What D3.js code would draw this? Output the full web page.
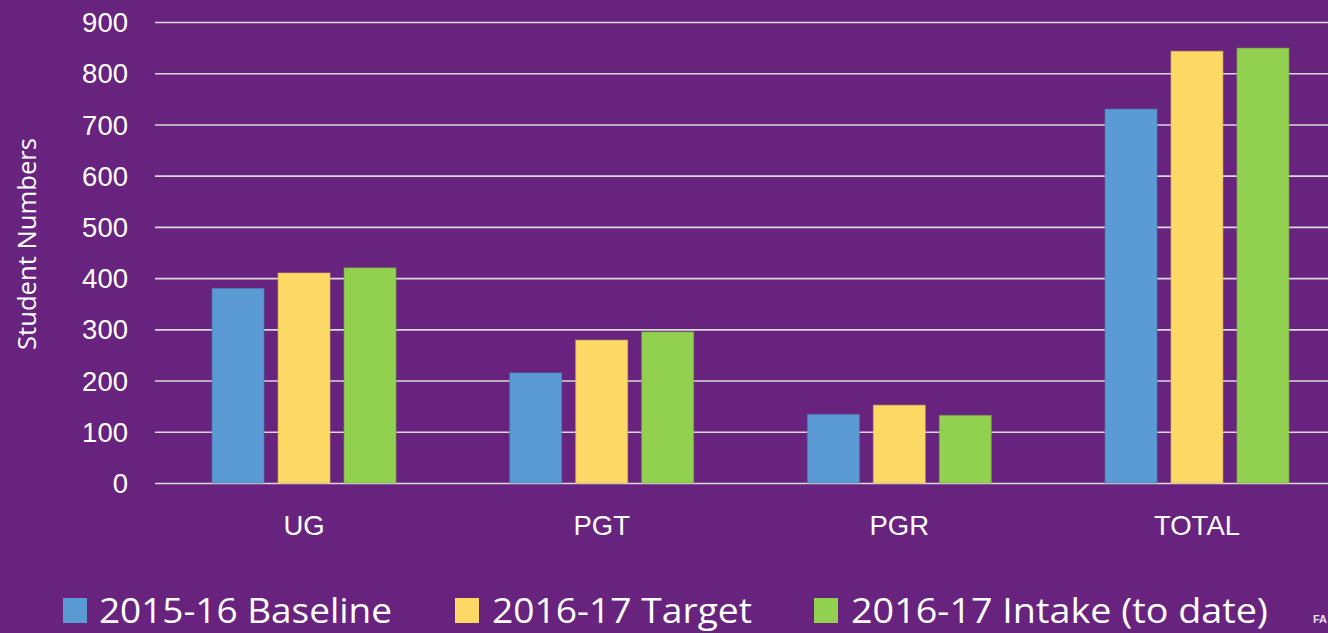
<!DOCTYPE html>
<html>
<head>
<meta charset="utf-8">
<script src="https://cdn.jsdelivr.net/npm/d3@7"></script>
<style>
  html, body { margin: 0; padding: 0; background: #68237f; }
  svg { display: block; }
</style>
</head>
<body>
<div id="chart"></div>
<script>
// chart data
const categories = ["UG", "PGT", "PGR", "TOTAL"];
const seriesNames = ["2015-16 Baseline", "2016-17 Target", "2016-17 Intake (to date)"];
const baseline = [380, 215, 134, 730];
const target = [410, 279, 152, 843];
const intake = [420, 295, 132, 849];
const yTicks = [0, 100, 200, 300, 400, 500, 600, 700, 800, 900];

const colors = ["#5b9bd5", "#ffd966", "#92d050"];
const W = 1328, H = 633;

const data = categories.map((c, i) => ({
    cat: c,
    values: [baseline[i], target[i], intake[i]]
}));

const svg = d3.select("#chart")
    .append("svg")
    .attr("width", W)
    .attr("height", H);

svg.append("rect")
    .attr("width", W).attr("height", H)
    .attr("fill", "#68237f");

const y = d3.scaleLinear()
    .domain([0, 900])
    .range([483, 22]);

const x0 = d3.scaleBand()
    .domain(categories)
    .range([155.2, 1345.8])
    .paddingInner(0.382)
    .paddingOuter(0.191);

const x1 = d3.scaleBand()
    .domain(d3.range(3))
    .range([0, x0.bandwidth()])
    .paddingInner(0.212);

// gridlines + tick labels
const yAxis = d3.axisLeft(y)
    .tickValues(yTicks)
    .tickSize(-(W - 155))
    .tickPadding(27);

const gy = svg.append("g")
    .attr("transform", "translate(155,0)")
    .call(yAxis);
gy.select(".domain").remove();
gy.selectAll(".tick line")
    .attr("stroke", "#d9d9d9")
    .attr("stroke-width", 1.6);
gy.selectAll(".tick text")
    .attr("fill", "#ffffff")
    .attr("font-family", "Liberation Sans, Arial, sans-serif")
    .attr("font-size", 27.5)
    .attr("dy", "0.35em");

// bars
svg.append("g")
    .selectAll("g")
    .data(data)
    .join("g")
    .attr("transform", d => `translate(${x0(d.cat)},0)`)
    .selectAll("rect")
    .data(d => d.values.map((v, k) => ({ k, v })))
    .join("rect")
    .attr("x", d => x1(d.k))
    .attr("width", x1.bandwidth())
    .attr("y", d => y(d.v))
    .attr("height", d => y(0) - y(d.v))
    .attr("fill", d => colors[d.k])
    .attr("stroke", d => d3.color(colors[d.k]).darker(0.6))
    .attr("stroke-opacity", 0.6)
    .attr("stroke-width", 1);

// category labels
const xAxis = d3.axisBottom(x0).tickSize(0).tickPadding(0);
const gx = svg.append("g")
    .attr("transform", "translate(0,483)")
    .call(xAxis);
gx.select(".domain").remove();
gx.selectAll(".tick text")
    .attr("fill", "#ffffff")
    .attr("font-family", "Liberation Sans, Arial, sans-serif")
    .attr("font-size", 27.5)
    .attr("dy", null)
    .attr("y", 52);

// axis title
svg.append("text")
    .attr("transform", "translate(36,244) rotate(-90)")
    .attr("text-anchor", "middle")
    .attr("fill", "#ffffff")
    .attr("font-family", "Open Sans, sans-serif")
    .attr("font-size", 25)
    .attr("textLength", 212)
    .attr("lengthAdjust", "spacingAndGlyphs")
    .text("Student Numbers");

// legend
const legendPos = [
    { sx: 63, tx: 99, tw: 293 },
    { sx: 455, tx: 492, tw: 260 },
    { sx: 814, tx: 851, tw: 417 }
];
const lg = svg.append("g");
seriesNames.forEach((name, k) => {
    lg.append("rect")
        .attr("x", legendPos[k].sx).attr("y", 598)
        .attr("width", 24).attr("height", 25)
        .attr("fill", colors[k]);
    lg.append("text")
        .attr("x", legendPos[k].tx).attr("y", 623)
        .attr("fill", "#ffffff")
        .attr("font-family", "Open Sans, sans-serif")
        .attr("font-size", 35)
        .attr("textLength", legendPos[k].tw)
        .attr("lengthAdjust", "spacingAndGlyphs")
        .text(name);
});

// corner logo fragment
svg.append("text")
    .attr("x", 1313).attr("y", 623)
    .attr("fill", "#e8dcec")
    .attr("font-family", "Liberation Sans, Arial, sans-serif")
    .attr("font-weight", "bold")
    .attr("font-size", 11)
    .text("FA");
</script>
</body>
</html>
